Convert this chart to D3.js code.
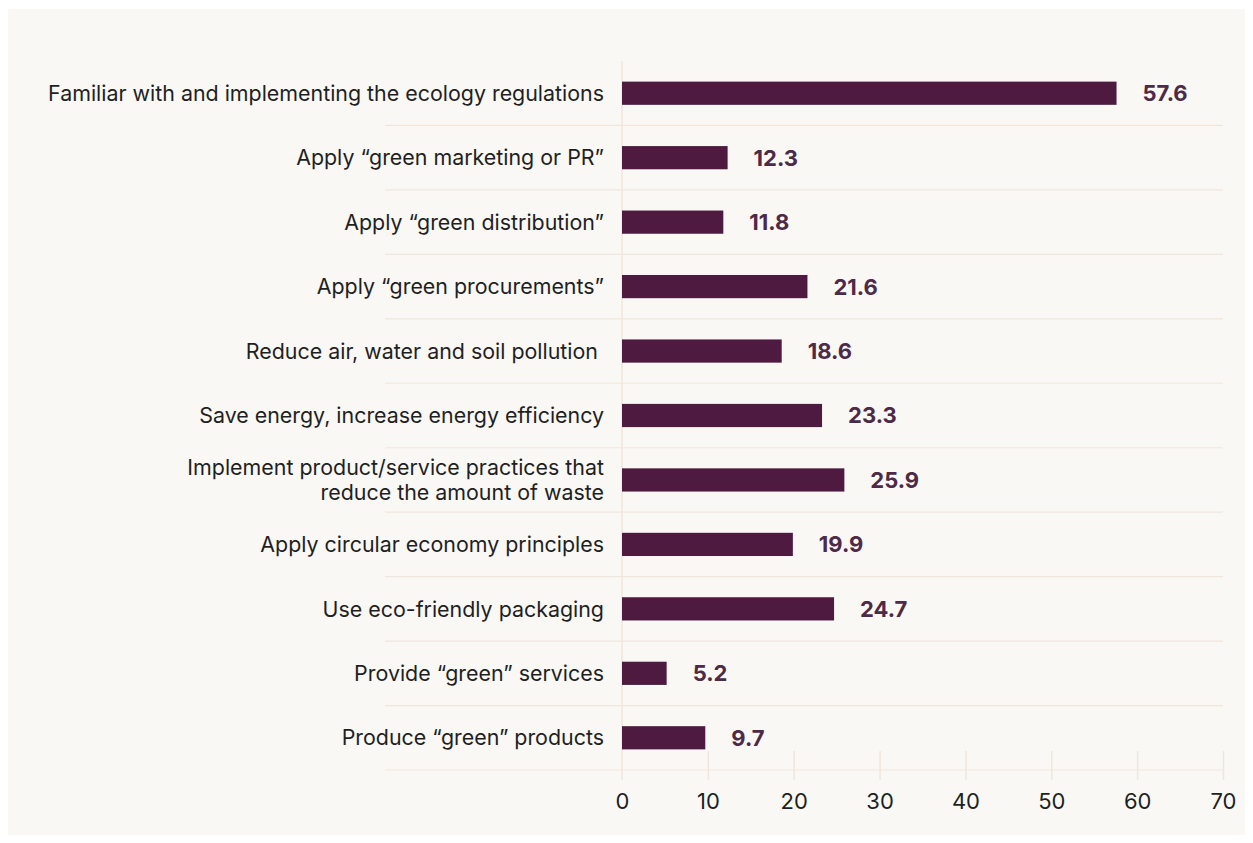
<!DOCTYPE html>
<html>
<head>
<meta charset="utf-8">
<script src="https://cdn.jsdelivr.net/npm/d3@7"></script>
<style>
  html, body { margin: 0; padding: 0; background: #ffffff; }
  svg { display: block; font-family: Inter, "Noto Sans", sans-serif; }
</style>
</head>
<body>
<svg id="chart" width="1253" height="843"></svg>
<script>
// Share of companies applying each green practice (%)
const categories = [
  "Familiar with and implementing the ecology regulations",
  "Apply \u201cgreen marketing or PR\u201d",
  "Apply \u201cgreen distribution\u201d",
  "Apply \u201cgreen procurements\u201d",
  "Reduce air, water and soil pollution ",
  "Save energy, increase energy efficiency",
  "Implement product/service practices that|reduce the amount of waste",
  "Apply circular economy principles",
  "Use eco-friendly packaging",
  "Provide \u201cgreen\u201d services",
  "Produce \u201cgreen\u201d products"
];
const values = [57.6, 12.3, 11.8, 21.6, 18.6, 23.3, 25.9, 19.9, 24.7, 5.2, 9.7];
const xTicks = [0, 10, 20, 30, 40, 50, 60, 70];

const svg = d3.select("#chart");

// panel background
svg.append("rect")
  .attr("x", 8).attr("y", 9).attr("width", 1237).attr("height", 826)
  .attr("fill", "#f9f8f5");

const x0 = 622, x1 = 1223, yTop = 61, yBot = 770, lineLeft = 385;
const x = d3.scaleLinear().domain([0, 70]).range([x0, x1]);
const y = d3.scaleBand().domain(d3.range(categories.length)).range([yTop, yBot]).paddingInner(0.64).paddingOuter(0.32);
const band = d3.scaleBand().domain(d3.range(categories.length)).range([yTop, yBot]);

const gridColor = "#f1e6dc";
const labelSize = 21.4;

// row separators
svg.append("g").selectAll("line")
  .data(d3.range(categories.length))
  .join("line")
  .attr("x1", lineLeft).attr("x2", x1)
  .attr("y1", i => band(i) + band.bandwidth())
  .attr("y2", i => band(i) + band.bandwidth())
  .attr("stroke", gridColor).attr("stroke-width", 1.2);

// zero line
svg.append("line")
  .attr("x1", x(0)).attr("x2", x(0))
  .attr("y1", yTop).attr("y2", yBot + 10)
  .attr("stroke", gridColor).attr("stroke-width", 1.5);

// x axis
const xAxis = d3.axisBottom(x).tickValues(xTicks).tickSize(0).tickPadding(0);
const gx = svg.append("g").attr("transform", `translate(0,${yBot})`).call(xAxis);
gx.select(".domain").remove();
gx.selectAll(".tick text")
  .attr("y", 32).attr("dy", "0.34em")
  .attr("fill", "#1f1f1f").attr("font-size", 22)
  .attr("font-family", "Inter, 'Noto Sans', sans-serif");
gx.selectAll(".tick").filter(d => d !== 0).append("line")
  .attr("y1", -19).attr("y2", 10)
  .attr("stroke", gridColor).attr("stroke-width", 1.5);

// bars
svg.append("g").selectAll("rect")
  .data(values)
  .join("rect")
  .attr("x", x(0))
  .attr("y", (d, i) => y(i))
  .attr("width", d => x(d) - x(0))
  .attr("height", y.bandwidth())
  .attr("fill", "#4e1a40");

// value labels
svg.append("g").selectAll("text")
  .data(values)
  .join("text")
  .attr("x", d => x(d) + 26)
  .attr("y", (d, i) => y(i) + y.bandwidth() / 2)
  .attr("dy", "0.36em")
  .attr("font-size", 22).attr("font-weight", 700)
  .attr("fill", "#4d2a47")
  .text(d => d.toFixed(1));

// category labels
const cat = svg.append("g").selectAll("text")
  .data(categories)
  .join("text")
  .attr("x", 604)
  .attr("y", (d, i) => y(i) + y.bandwidth() / 2)
  .attr("text-anchor", "end")
  .attr("font-size", labelSize)
  .attr("fill", "#1f1f1f")
  .style("white-space", "pre");
cat.each(function(d) {
  const lines = d.split("|");
  const t = d3.select(this);
  const lh = 25;
  lines.forEach((ln, k) => {
    t.append("tspan")
      .attr("x", 604)
      .attr("dy", k === 0 ? `${0.36 - (lines.length - 1) * lh / 2 / labelSize}em` : lh)
      .text(ln);
  });
});
</script>
</body>
</html>
